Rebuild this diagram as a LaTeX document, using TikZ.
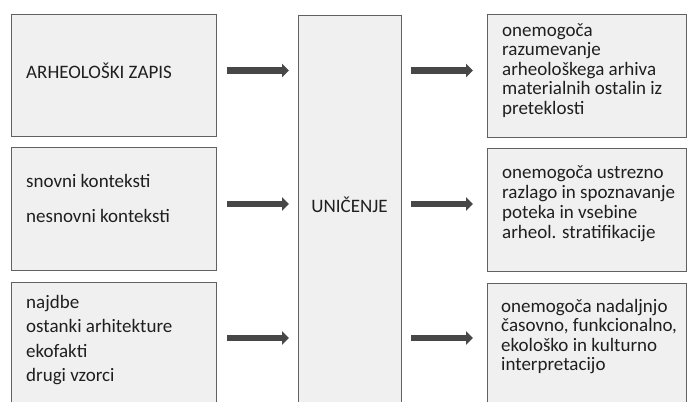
\documentclass[tikz,border=0pt]{standalone}
\usepackage{fontspec}
\setmainfont{Carlito}
\usetikzlibrary{arrows.meta}
\begin{document}
\begin{tikzpicture}[x=1bp,y=-1bp,
    box/.style={draw=black!62,line width=1bp,fill=black!6,anchor=north west,
      inner sep=0pt,minimum width=205bp},
    rbox/.style={box,minimum width=199bp},
    lbl/.style={anchor=base west,align=left,inner sep=0pt,text=black!88,
      font=\fontsize{19bp}{19.5bp}\selectfont},
    flow/.style={draw=black!72,line width=6.5bp,
      -{Triangle[length=7bp,width=13.5bp]}}]
  \useasboundingbox (0,0) rectangle (687,401);
  \clip (0,0) rectangle (687,401);
  % boxes
  \node[box,minimum height=122bp] (arh) at (11,14) {};
  \node[box,minimum height=123bp] (ctx) at (11,147) {};
  \node[box,minimum height=130bp] (ost) at (11,282) {};
  \node[box,minimum width=103bp,minimum height=396bp] (unic) at (298,15) {};
  \node[rbox,minimum height=123bp] (arhout) at (487,14) {};
  \node[rbox,minimum height=123bp] (ctxout) at (487,148) {};
  \node[rbox,minimum height=128bp] (ostout) at (487,283) {};
  % texts (placed at the baseline of their last line)
  \node[lbl] (arhtxt) at (26,78) {ARHEOLOŠKI ZAPIS};
  \node[lbl,font=\fontsize{19bp}{35bp}\selectfont] (ctxtxt) at (26,222)
    {snovni konteksti\\nesnovni konteksti};
  \node[lbl,font=\fontsize{19bp}{24.5bp}\selectfont] (osttxt) at (26,381.5)
    {najdbe\\ostanki arhitekture\\ekofakti\\drugi vzorci};
  \node[lbl,anchor=base] (unictxt) at (349.5,212) {UNIČENJE};
  \node[lbl] (arhouttxt) at (502,114)
    {onemogoča\\razumevanje\\arheološkega arhiva\\materialnih ostalin iz\\preteklosti};
  \node[lbl,font=\fontsize{19bp}{20bp}\selectfont] (ctxouttxt) at (502,238)
    {onemogoča ustrezno\\razlago in spoznavanje\\poteka in vsebine\\arheol. stratifikacije};
  \node[lbl] (ostouttxt) at (501,370.5)
    {onemogoča nadaljnjo\\časovno, funkcionalno,\\ekološko in kulturno\\interpretacijo};
  % arrows
  \coordinate (row1) at (0,70.5);
  \coordinate (row2) at (0,204);
  \coordinate (row3) at (0,338);
  \begin{scope}[flow]
    \draw[shorten <=10bp,shorten >=9bp] (arh.east |- row1) -- (unic.west |- row1);
    \draw[shorten <=10bp,shorten >=9bp] (ctx.east |- row2) -- (unic.west |- row2);
    \draw[shorten <=10bp,shorten >=9bp] (ost.east |- row3) -- (unic.west |- row3);
    \draw[shorten <=9bp,shorten >=14bp] (unic.east |- row1) -- (arhout.west |- row1);
    \draw[shorten <=9bp,shorten >=14bp] (unic.east |- row2) -- (ctxout.west |- row2);
    \draw[shorten <=9bp,shorten >=14bp] (unic.east |- row3) -- (ostout.west |- row3);
  \end{scope}
\end{tikzpicture}
\end{document}
